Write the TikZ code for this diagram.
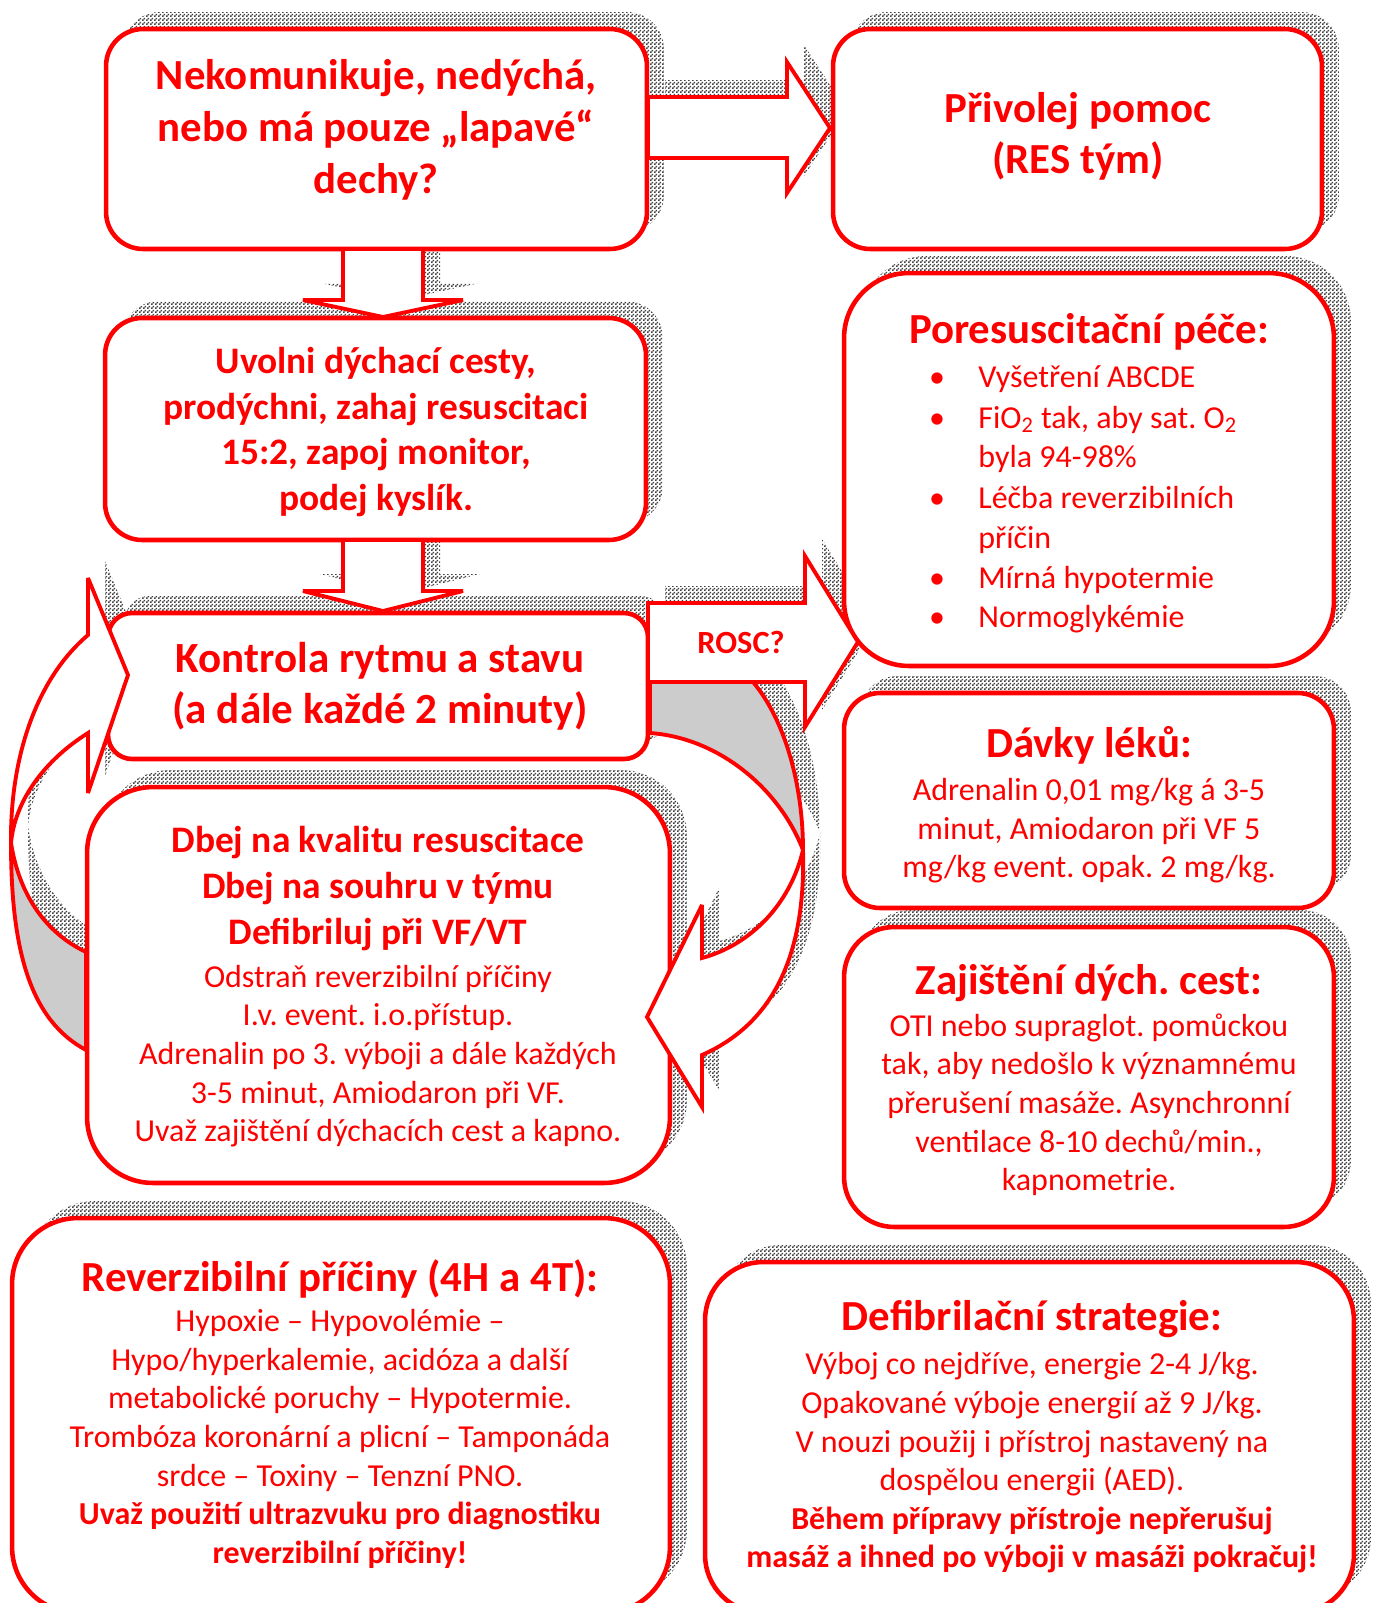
\documentclass[tikz,border=0pt]{standalone}
\usepackage{fontspec}
\setmainfont{Carlito}
\usetikzlibrary{patterns,shadows}
\frenchspacing

\pgfdeclarepatternformonly{checks}{\pgfpointorigin}{\pgfqpoint{2pt}{2pt}}{\pgfqpoint{2pt}{2pt}}{%
  \pgfpathrectangle{\pgfpointorigin}{\pgfqpoint{1pt}{1pt}}%
  \pgfpathrectangle{\pgfqpoint{1pt}{1pt}}{\pgfqpoint{1pt}{1pt}}%
  \pgfusepath{fill}}
\pgfdeclarelayer{back}
\pgfsetlayers{back,main}

\newcommand\strongline[2][21.3]{{\bfseries\fontsize{#1}{22}\selectfont #2}}

% block arrows and the two turning arrows
\def\arrowhelp{(648,97) -- (787,97) -- (787,62) -- (830,128) -- (787,193) -- (787,158) -- (648,158) -- cycle}
\def\arrowdownA{(343,249) -- (343,300) -- (303,300) -- (383,317) -- (463,300) -- (423,300) -- (423,249) -- cycle}
\def\arrowdownB{(343,540) -- (343,591) -- (303,591) -- (383,611) -- (463,591) -- (423,591) -- (423,540) -- cycle}
\def\arrowrosc{(648,603) -- (805,603) -- (805,556) -- (858,642) -- (805,727) -- (805,682) -- (648,682) -- cycle}
\def\loopLfront{(88,635) -- (88,578) -- (128,675) -- (88,793) -- (88,733) .. controls (45,760) and (15,800) .. (11,843) .. controls (10,760) and (35,680) .. (88,635) -- cycle}
\def\loopLback{(11,843) .. controls (11,950) and (30,1020) .. (86,1050) -- (86,952) .. controls (50,935) and (20,900) .. (11,843) -- cycle}
\def\loopRback{(650,682) -- (753,682) .. controls (785,720) and (803,785) .. (803,850) .. controls (780,790) and (720,738) .. (650,733) -- cycle}
\def\loopRfront{(803,850) .. controls (806,960) and (770,1025) .. (702,1055) -- (702,1107) -- (647,1017) -- (702,905) -- (702,958) .. controls (750,945) and (790,905) .. (803,850) -- cycle}

\begin{document}
\begin{tikzpicture}[x=0.02cm, y=-0.02cm,
  shadowed/.style={general shadow={pattern=checks, pattern color=black!75, shadow xshift=0.34cm, shadow yshift=0.34cm}},
  box/.style={draw=red, line width=2.6pt, fill=white, rounded corners=#1, inner sep=0pt, shadowed},
  blockarrow/.style={draw=red, line width=2.2pt, fill=white, miter limit=4},
  backside/.style={draw=red, line width=2.2pt, fill=black!20, miter limit=4},
  fall/.style={pattern=checks, pattern color=black!75, shift={(17,-17)}},
  txt/.style={text=red, align=center, inner sep=0pt},
  body/.style={font=\fontsize{18.2}{22}\selectfont}]
\useasboundingbox (0,0) rectangle (1383,1603);
\clip (0,0) rectangle (1383,1603);

% shadows of the arrows
\begin{pgfonlayer}{back}
  \fill[fall] \arrowhelp;
  \fill[fall] \arrowdownA;
  \fill[fall] \arrowdownB;
  \fill[fall] \arrowrosc;
  \fill[fall] \loopLfront; \fill[fall] \loopLback;
  \fill[fall] \loopRfront; \fill[fall] \loopRback;
\end{pgfonlayer}

% boxes
\node[box=0.74cm, minimum width=10.82cm, minimum height=4.4cm] (ask) at (376.5,139) {};
\node[box=0.74cm, minimum width=9.78cm, minimum height=4.4cm] (help) at (1077.5,139) {};
\node[box=0.74cm, minimum width=10.82cm, minimum height=4.44cm] (open) at (375.5,429) {};
\node[box=0.48cm, minimum width=10.8cm, minimum height=2.92cm] (rhythm) at (378,686) {};
\node[box=1.3cm, minimum width=9.8cm, minimum height=7.86cm] (post) at (1089,469.5) {};
\node[box=0.72cm, minimum width=9.8cm, minimum height=4.3cm] (drugs) at (1089,800.5) {};
\node[box=1cm, minimum width=9.8cm, minimum height=6cm] (airway) at (1089,1077) {};
\node[box=1.32cm, minimum width=11.66cm, minimum height=7.92cm] (cpr) at (378.5,985) {};
\node[box=1.32cm, minimum width=13.16cm, minimum height=7.9cm] (causes) at (341,1415.5) {};
\node[box=1.16cm, minimum width=12.98cm, minimum height=7.02cm] (defib) at (1029.5,1437.5) {};

% arrows
\draw[blockarrow] \arrowhelp;
\draw[blockarrow] \arrowdownA;
\draw[blockarrow] \arrowdownB;
\draw[backside] \loopRback;
\draw[blockarrow] \loopRfront;
\draw[backside] \loopLback;
\draw[blockarrow] \loopLfront;
\draw[blockarrow] \arrowrosc;

% texts
\node[txt, font=\bfseries\fontsize{24.4}{29.6}\selectfont] (askt) at (376,130) {Nekomunikuje, nedýchá,\\nebo má pouze „lapavé“\\dechy?};
\node[txt, font=\bfseries\fontsize{24.4}{29}\selectfont] (helpt) at (1078,136) {Přivolej pomoc\\(RES tým)};
\node[txt, font=\bfseries\fontsize{21.3}{26}\selectfont] (opent) at (376,432) {Uvolni dýchací cesty,\\prodýchni, zahaj resuscitaci\\15:2, zapoj monitor,\\podej kyslík.};
\node[txt, font=\bfseries\fontsize{24.5}{29}\selectfont] (rhythmt) at (380,686) {Kontrola rytmu a stavu\\(a dále každé 2 minuty)};
\node[txt, font=\bfseries\fontsize{18.4}{22}\selectfont] (rosct) at (741,642) {ROSC?};

\node[txt, font=\bfseries\fontsize{24.4}{29}\selectfont] (postt) at (1089,332) {Poresuscitační péče:};
\foreach \y/\t in {387/Vyšetření ABCDE, 428/{FiO\textsubscript{2} tak, aby sat. O\textsubscript{2}}, 467/byla 94-98\%, 508/Léčba reverzibilních, 548/příčin, 588/Mírná hypotermie, 627/Normoglykémie}
  \node[txt, font=\fontsize{18.2}{22}\selectfont, anchor=base west] (li\y) at (978,\y) {\t};
\foreach \y in {387,428,508,588,627}
  \node[txt, font=\fontsize{18.2}{22}\selectfont, anchor=base] (dot\y) at (937,\y) {•};

\node[txt, body] (drugst) at (1089,805) {\strongline[24.4]{Dávky léků:}\\[2.5pt]Adrenalin 0,01 mg/kg á 3-5\\minut, Amiodaron při VF 5\\mg/kg event. opak. 2 mg/kg.};
\node[txt, body] (airwayt) at (1089,1080) {\strongline[24.4]{Zajištění dých. cest:}\\[2pt]OTI nebo supraglot. pomůckou\\tak, aby nedošlo k významnému\\přerušení masáže. Asynchronní\\ventilace 8-10 dechů/min.,\\kapnometrie.};
\node[txt, body] (cprt) at (378,987) {\strongline{Dbej na kvalitu resuscitace}\\[4pt]\strongline{Dbej na souhru v týmu}\\[4pt]\strongline{Defibriluj při VF/VT}\\[2.5pt]Odstraň reverzibilní příčiny\\I.v. event. i.o.přístup.\\Adrenalin po 3. výboji a dále každých\\3-5 minut, Amiodaron při VF.\\Uvaž zajištění dýchacích cest a kapno.};
\node[txt, body] (causest) at (340,1414) {\strongline[24.4]{Reverzibilní příčiny (4H a 4T):}\\[1pt]Hypoxie – Hypovolémie –\\Hypo/hyperkalemie, acidóza a další\\metabolické poruchy – Hypotermie.\\Trombóza koronární a plicní – Tamponáda\\srdce – Toxiny – Tenzní PNO.\\\textbf{Uvaž použití ultrazvuku pro diagnostiku}\\\textbf{reverzibilní příčiny!}};
\node[txt, body] (defibt) at (1032,1437) {\strongline[24.4]{Defibrilační strategie:}\\[3pt]Výboj co nejdříve, energie 2-4 J/kg.\\Opakované výboje energií až 9 J/kg.\\V nouzi použij i přístroj nastavený na\\dospělou energii (AED).\\\textbf{Během přípravy přístroje nepřerušuj}\\\textbf{masáž a ihned po výboji v masáži pokračuj!}};
\end{tikzpicture}
\end{document}
